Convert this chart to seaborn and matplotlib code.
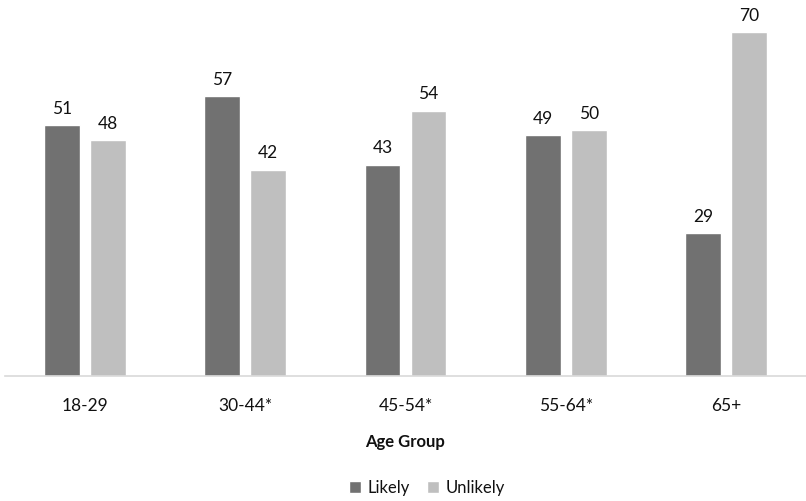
import matplotlib
matplotlib.use('Agg')
import matplotlib.pyplot as plt
import pandas as pd
import seaborn as sns

# data
age_groups = ["18-29", "30-44*", "45-54*", "55-64*", "65+"]
likely = [51, 57, 43, 49, 29]
unlikely = [48, 42, 54, 50, 70]
series_names = ["Likely", "Unlikely"]

df = pd.DataFrame({
    "Age Group": age_groups * 2,
    "Response": [series_names[0]] * len(age_groups) + [series_names[1]] * len(age_groups),
    "Value": likely + unlikely,
})

sns.set_style("white")
plt.rcParams['font.family'] = ['Lato', 'DejaVu Sans']

fig = plt.figure(figsize=(8.06, 5.01), dpi=100)
ax = fig.add_axes([5 / 806, 125 / 501, 801 / 806, 368.6 / 501])

sns.barplot(data=df, x="Age Group", y="Value", hue="Response",
            palette=["#717171", "#bfbfbf"], width=0.575, gap=0.22,
            ax=ax, legend=True, saturation=1)

for cont in ax.containers:
    ax.bar_label(cont, padding=6, fontsize=12.5, color="#111111")

ax.set_ylim(0, 75)
ax.set_xlim(-0.5, len(age_groups) - 0.5)
ax.set_yticks([])
ax.set_ylabel("")
ax.set_xlabel("Age Group", fontsize=12, fontweight="bold", labelpad=14, color="#111111")
ax.tick_params(axis="x", labelsize=12.5, length=0, pad=16, labelcolor="#111111")
for side in ["top", "right", "left"]:
    ax.spines[side].set_visible(False)
ax.spines["bottom"].set_color("#d9d9d9")
ax.spines["bottom"].set_linewidth(1.2)

handles, labels = ax.get_legend_handles_labels()
ax.legend_.remove()
fig.legend(handles, labels, loc="center", bbox_to_anchor=(427 / 806, 1 - 488 / 501),
           ncol=2, frameon=False, fontsize=12, handlelength=0.7, handleheight=0.7,
           handletextpad=0.4, columnspacing=1.0, labelcolor="#111111")

fig.savefig("out.png", dpi=100)
